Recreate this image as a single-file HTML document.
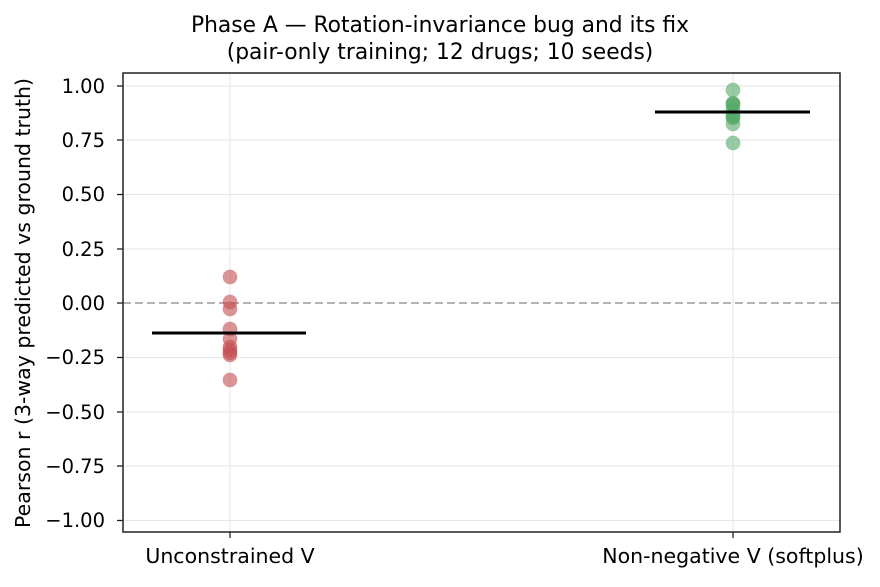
<!DOCTYPE html>
<html><head><style>body{margin:0;background:#fff}</style></head><body>
<svg width="880" height="582" xmlns="http://www.w3.org/2000/svg" font-family="DejaVu Sans, Liberation Sans, sans-serif">
<rect width="880" height="582" fill="#fff"/>
<g stroke="#e6e6e6" stroke-width="1">
<line x1="123" x2="840" y1="86" y2="86"/><line x1="123" x2="840" y1="140" y2="140"/><line x1="123" x2="840" y1="194.5" y2="194.5"/><line x1="123" x2="840" y1="249" y2="249"/><line x1="123" x2="840" y1="357.5" y2="357.5"/><line x1="123" x2="840" y1="412" y2="412"/><line x1="123" x2="840" y1="466" y2="466"/><line x1="123" x2="840" y1="520.5" y2="520.5"/>
<line x1="230" x2="230" y1="73" y2="532"/><line x1="733" x2="733" y1="73" y2="532"/>
</g>
<line x1="123" x2="840" y1="303" y2="303" stroke="#b3b3b3" stroke-width="2" stroke-dasharray="8,4"/>
<g fill="#c44e52" fill-opacity="0.6" stroke="#c44e52" stroke-opacity="0.3">
<circle cx="230" cy="277" r="7"/><circle cx="230" cy="302" r="7"/><circle cx="230" cy="309" r="7"/><circle cx="230" cy="329" r="7"/><circle cx="230" cy="339" r="7"/><circle cx="230" cy="347" r="7"/><circle cx="230" cy="350" r="7"/><circle cx="230" cy="353" r="7"/><circle cx="230" cy="355" r="7"/><circle cx="230" cy="380" r="7"/>
</g>
<g fill="#55a868" fill-opacity="0.6" stroke="#55a868" stroke-opacity="0.3">
<circle cx="733" cy="90" r="7"/><circle cx="733" cy="103" r="7"/><circle cx="733" cy="104" r="7"/><circle cx="733" cy="105" r="7"/><circle cx="733" cy="110" r="7"/><circle cx="733" cy="115" r="7"/><circle cx="733" cy="117" r="7"/><circle cx="733" cy="118" r="7"/><circle cx="733" cy="124" r="7"/><circle cx="733" cy="143" r="7"/>
</g>
<line x1="152" x2="306" y1="333" y2="333" stroke="#000" stroke-width="3"/>
<line x1="655" x2="810" y1="112" y2="112" stroke="#000" stroke-width="3"/>
<rect x="123" y="73" width="717" height="459" fill="none" stroke="#222" stroke-width="1.5"/>
<g stroke="#222" stroke-width="1.3"><line x1="117" x2="123" y1="86" y2="86"/><line x1="117" x2="123" y1="140" y2="140"/><line x1="117" x2="123" y1="194.5" y2="194.5"/><line x1="117" x2="123" y1="249" y2="249"/><line x1="117" x2="123" y1="303" y2="303"/><line x1="117" x2="123" y1="357.5" y2="357.5"/><line x1="117" x2="123" y1="412" y2="412"/><line x1="117" x2="123" y1="466" y2="466"/><line x1="117" x2="123" y1="520.5" y2="520.5"/><line x1="230" x2="230" y1="532" y2="538"/><line x1="733" x2="733" y1="532" y2="538"/></g>
<g font-size="19.5" text-anchor="end" fill="#000">
<text x="105" y="93">1.00</text><text x="105" y="147">0.75</text><text x="105" y="201">0.50</text><text x="105" y="256">0.25</text><text x="105" y="310">0.00</text><text x="105" y="364">−0.25</text><text x="105" y="419">−0.50</text><text x="105" y="473">−0.75</text><text x="105" y="527">−1.00</text>
</g>
<g font-size="20.5" text-anchor="middle">
<text x="230" y="563">Unconstrained V</text><text x="733" y="563">Non-negative V (softplus)</text>
<text x="440" y="32" font-size="21.8">Phase A — Rotation-invariance bug and its fix</text>
<text x="440" y="59" font-size="21.8">(pair-only training; 12 drugs; 10 seeds)</text>
<text transform="translate(30,303) rotate(-90)" font-size="20.5">Pearson r (3-way predicted vs ground truth)</text>
</g>
</svg>
</body></html>
